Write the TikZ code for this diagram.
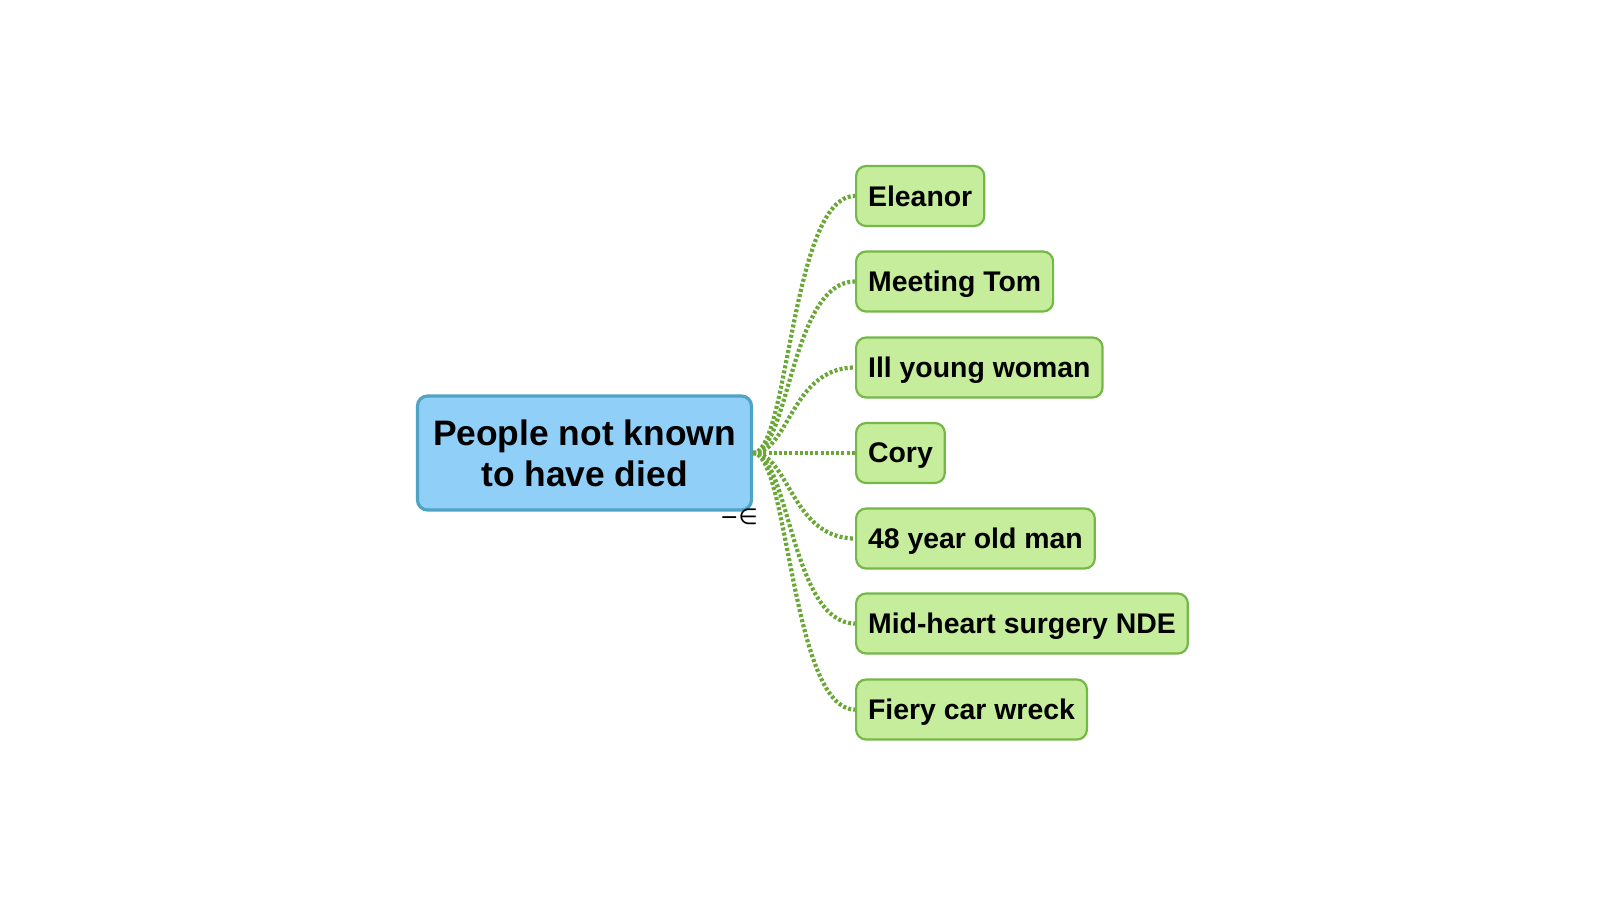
\documentclass[tikz,border=0pt]{standalone}
\usepackage{fontspec}
\setmainfont{Liberation Sans}
\newfontfamily\symfont{DejaVu Sans}
\definecolor{rootfill}{HTML}{90CFF7}
\definecolor{rootdraw}{HTML}{4FA3C4}
\definecolor{kidfill}{HTML}{C6ED9C}
\definecolor{kiddraw}{HTML}{76B848}
\definecolor{linkcol}{HTML}{6AA836}
\tikzset{
  rootbox/.style={draw=rootdraw, fill=rootfill, line width=1.6pt, rounded corners=5pt,
    minimum width=167pt, minimum height=57pt, align=center, font=\bfseries\fontsize{17.7}{20.5}\selectfont, inner sep=0pt},
  kidbox/.style={draw=kiddraw, fill=kidfill, line width=1.1pt, rounded corners=5pt,
    minimum height=30pt, inner xsep=6pt, inner ysep=0pt, text depth=0pt, anchor=west, font=\bfseries\fontsize{14.2}{16}\selectfont},
  link/.style={draw=linkcol, line width=2.1pt, dash pattern=on 1.5pt off 1.1pt}
}
\begin{document}
\begin{tikzpicture}[x=0.5pt,y=-0.5pt]
\useasboundingbox (0,0) rectangle (1600,900);
\node[rootbox] (root) at (584.5,453) {People not known\\to have died};
\coordinate (hub) at (753,453);
\node[kidbox] (k1) at (855,196) {Eleanor};
\node[kidbox] (k2) at (855,281.5) {Meeting Tom};
\node[kidbox] (k3) at (855,367.5) {Ill young woman};
\node[kidbox] (k4) at (855,453) {Cory};
\node[kidbox] (k5) at (855,538.5) {48 year old man};
\node[kidbox] (k6) at (855,623.5) {Mid-heart surgery NDE};
\node[kidbox] (k7) at (855,709.5) {Fiery car wreck};
\foreach \k in {k1,k2,k3,k5,k6,k7}{
  \draw[link] (hub) .. controls ([xshift=18pt]hub) and ([xshift=-32pt]\k.west) .. (\k.west);
}
\draw[link] (hub) -- (k4.west);
\node[font=\symfont\fontsize{11}{11}\selectfont, inner sep=0pt] (mark) at (739,517) {−∈};
\end{tikzpicture}
\end{document}
